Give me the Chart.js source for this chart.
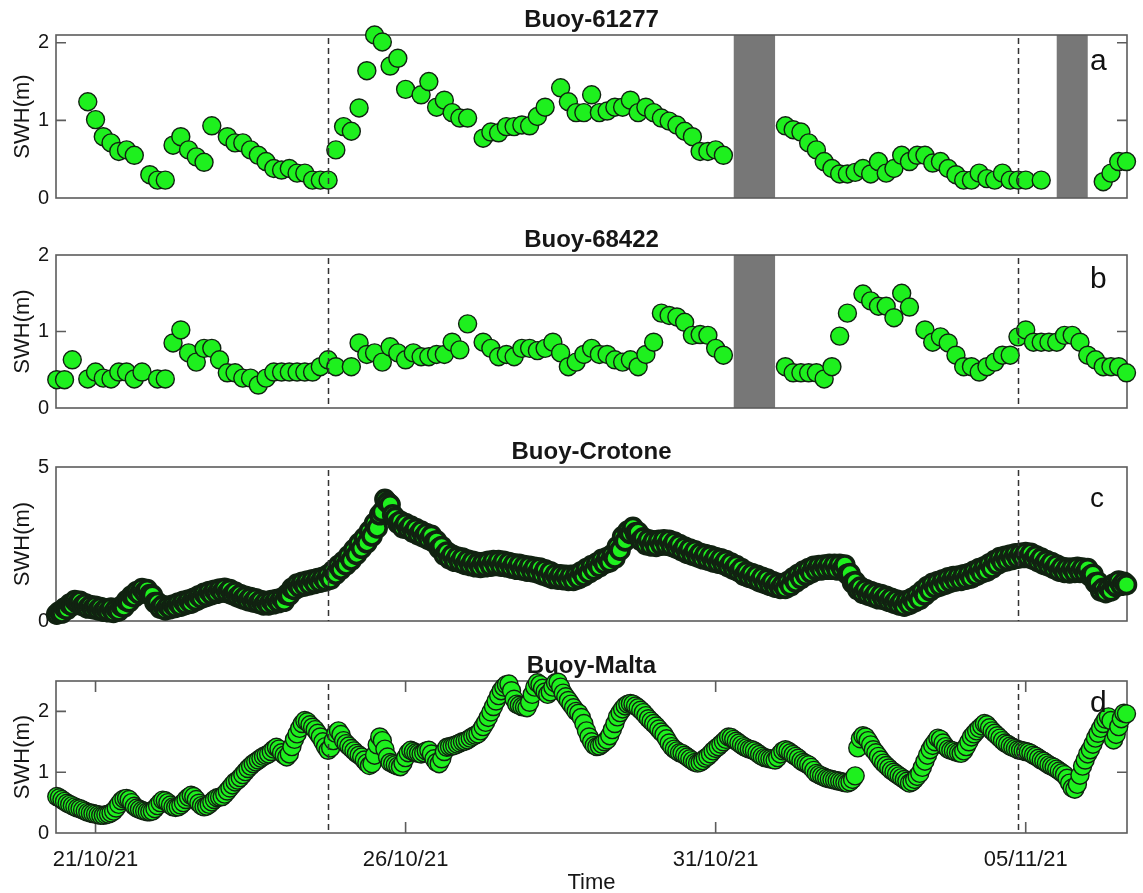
<!DOCTYPE html>
<html>
<head>
<meta charset="utf-8">
<title>Significant wave height at four buoys</title>
<script src="https://cdn.jsdelivr.net/npm/chart.js@4.4.1/dist/chart.umd.min.js"></script>
<style>
  html, body { margin: 0; padding: 0; background: #ffffff; }
  #wrap { position: relative; width: 1143px; height: 893px; overflow: hidden; background: #ffffff; }
  #wrap canvas { position: absolute; left: 0; }
</style>
</head>
<body>
<div id="wrap">
  <canvas id="panelA" width="1143" height="222" style="top:0px"></canvas>
  <canvas id="panelB" width="1143" height="212" style="top:220px"></canvas>
  <canvas id="panelC" width="1143" height="213" style="top:432px"></canvas>
  <canvas id="panelD" width="1143" height="250" style="top:646px"></canvas>
</div>
<script>
// Time axis: hours since 21/10/21 00:00
const timeMin = -15.3;
const timeMax = 399.2;
const dayTickHours = [0, 120, 240, 360];
const dayTickLabels = ['21/10/21', '26/10/21', '31/10/21', '05/11/21'];
const eventHours = [90, 357];

// Buoy 61277 (3-hourly)
const b61277Hours = [-3, 0, 3, 6, 9, 12, 15, 21, 24, 27, 30, 33, 36, 39, 42, 45, 51, 54, 57, 60, 63, 66, 69, 72, 75, 78, 81, 84, 87, 90,
  93, 96, 99, 102, 105, 108, 111, 114, 117, 120, 126, 129, 132, 135, 138, 141, 144, 150, 153, 156, 159, 162, 165, 168, 171, 174,
  180, 183, 186, 189, 192, 195, 198, 201, 204, 207, 210, 213, 216, 219, 222, 225, 228, 231, 234, 237, 240, 243,
  267, 270, 273, 276, 279, 282, 285, 288, 291, 294, 297, 300, 303, 306, 309, 312, 315, 318, 321, 324, 327, 330, 333, 336, 339, 342,
  345, 348, 351, 354, 357, 360, 366, 390, 393, 396, 399];
const b61277Swh = [1.24, 1.01, 0.79, 0.71, 0.60, 0.62, 0.55, 0.30, 0.23, 0.23, 0.68, 0.79, 0.62, 0.53, 0.46, 0.93, 0.79, 0.71, 0.71, 0.62, 0.55, 0.47, 0.38, 0.36, 0.38, 0.32, 0.32, 0.23, 0.23, 0.23,
  0.62, 0.92, 0.86, 1.16, 1.64, 2.10, 2.01, 1.70, 1.80, 1.40, 1.33, 1.50, 1.17, 1.26, 1.10, 1.03, 1.03, 0.77, 0.85, 0.84, 0.92, 0.92, 0.94, 0.93, 1.05, 1.17,
  1.42, 1.24, 1.10, 1.10, 1.33, 1.10, 1.12, 1.17, 1.17, 1.26, 1.10, 1.17, 1.10, 1.03, 0.99, 0.94, 0.86, 0.79, 0.60, 0.60, 0.62, 0.55,
  0.93, 0.88, 0.85, 0.71, 0.62, 0.47, 0.38, 0.31, 0.31, 0.33, 0.38, 0.31, 0.47, 0.32, 0.38, 0.55, 0.47, 0.55, 0.55, 0.45, 0.47, 0.38, 0.30, 0.23, 0.23, 0.32,
  0.25, 0.23, 0.32, 0.23, 0.23, 0.23, 0.23, 0.21, 0.32, 0.47, 0.47];
const b61277Gaps = [[247, 263], [372, 384]];

// Buoy 68422 (3-hourly)
const b68422Hours = [-15, -12, -9, -3, 0, 3, 6, 9, 12, 15, 18, 24, 27, 30, 33, 36, 39, 42, 45, 48, 51, 54, 57, 60, 63, 66, 69, 72, 75, 78, 81, 84, 87, 90, 93,
  99, 102, 105, 108, 111, 114, 117, 120, 123, 126, 129, 132, 135, 138, 141, 144, 150, 153, 156, 159, 162, 165, 168, 171, 174, 177, 180, 183, 186, 189,
  192, 195, 198, 201, 204, 207, 210, 213, 216, 219, 222, 225, 228, 231, 234, 237, 240, 243,
  267, 270, 273, 276, 279, 282, 285, 288, 291, 297, 300, 303, 306, 309, 312, 315, 321, 324, 327, 330, 333, 336, 339, 342, 345, 348, 351, 354,
  357, 360, 363, 366, 369, 372, 375, 378, 381, 384, 387, 390, 393, 396, 399];
const b68422Swh = [0.37, 0.37, 0.63, 0.38, 0.47, 0.39, 0.38, 0.47, 0.47, 0.38, 0.47, 0.38, 0.38, 0.85, 1.02, 0.72, 0.60, 0.78, 0.78, 0.63, 0.46, 0.46, 0.39, 0.39, 0.30, 0.39, 0.47, 0.47, 0.47, 0.47, 0.47, 0.47, 0.54, 0.63, 0.54,
  0.54, 0.85, 0.70, 0.72, 0.60, 0.80, 0.72, 0.63, 0.72, 0.67, 0.67, 0.70, 0.70, 0.86, 0.76, 1.10, 0.86, 0.78, 0.67, 0.70, 0.67, 0.78, 0.78, 0.75, 0.78, 0.86, 0.72, 0.54, 0.60, 0.70,
  0.78, 0.70, 0.70, 0.63, 0.60, 0.63, 0.54, 0.70, 0.86, 1.24, 1.21, 1.19, 1.12, 0.95, 0.96, 0.95, 0.78, 0.69,
  0.54, 0.46, 0.46, 0.46, 0.46, 0.38, 0.54, 0.94, 1.24, 1.49, 1.40, 1.33, 1.33, 1.18, 1.50, 1.32, 1.02, 0.86, 0.93, 0.85, 0.69, 0.54, 0.54, 0.47, 0.54, 0.60, 0.69, 0.69,
  0.93, 1.02, 0.86, 0.86, 0.86, 0.86, 0.95, 0.95, 0.86, 0.69, 0.63, 0.54, 0.54, 0.54, 0.46];
const b68422Gaps = [[247, 263]];

// Crotone buoy (hourly, first record at hour -15)
const crotoneStart = -15;
const crotoneSwh = [
  0.22, 0.30, 0.26, 0.42, 0.38, 0.55, 0.50, 0.66, 0.58, 0.64, 0.50, 0.56, 0.42, 0.50, 0.40,
  0.48, 0.36, 0.44, 0.32, 0.40, 0.30, 0.42, 0.28, 0.40, 0.33, 0.48, 0.45, 0.66, 0.62, 0.82, 0.78, 0.96, 0.88, 1.05, 0.94, 1.02, 0.86, 0.84, 0.60,
  0.60, 0.42, 0.50, 0.36, 0.48, 0.40, 0.52, 0.44, 0.58, 0.48, 0.64, 0.54, 0.68, 0.58, 0.74, 0.66, 0.82, 0.74, 0.90, 0.80, 0.96, 0.86, 1.00, 0.90,
  1.04, 0.94, 1.06, 0.92, 1.02, 0.86, 0.94, 0.78, 0.86, 0.72, 0.80, 0.66, 0.76, 0.62, 0.72, 0.58, 0.66, 0.52, 0.63, 0.52, 0.66, 0.56, 0.70, 0.60,
  0.74, 0.64, 0.86, 0.84, 1.06, 1.02, 1.20, 1.10, 1.26, 1.14, 1.30, 1.18, 1.34, 1.22, 1.38, 1.26, 1.42, 1.30, 1.50, 1.36, 1.64, 1.52, 1.80, 1.68,
  1.94, 1.82, 2.12, 1.98, 2.32, 2.16, 2.52, 2.36, 2.70, 2.54, 2.92, 2.76, 3.18, 3.02, 3.45, 3.55, 3.95, 3.85, 3.78, 3.45, 3.36, 3.18, 3.24, 3.02,
  3.16, 2.98, 3.08, 2.88, 3.00, 2.80, 2.92, 2.72, 2.84, 2.64, 2.78, 2.56, 2.60, 2.36, 2.42, 2.14, 2.24, 2.02, 2.14, 1.94, 2.08, 1.90, 2.04, 1.84,
  1.98, 1.80, 1.94, 1.76, 1.90, 1.74, 1.90, 1.76, 1.94, 1.78, 1.96, 1.80, 1.96, 1.78, 1.94, 1.76, 1.90, 1.72, 1.86, 1.68, 1.84, 1.66, 1.80, 1.62,
  1.78, 1.60, 1.74, 1.56, 1.72, 1.50, 1.66, 1.44, 1.60, 1.38, 1.52, 1.36, 1.50, 1.34, 1.48, 1.32, 1.48, 1.32, 1.50, 1.38, 1.60, 1.46, 1.70, 1.56,
  1.80, 1.66, 1.88, 1.76, 2.00, 1.86, 2.06, 1.92, 2.16, 2.04, 2.42, 2.30, 2.74, 2.60, 2.92, 2.84, 3.04, 2.86, 2.88, 2.62, 2.70, 2.48, 2.64, 2.44,
  2.60, 2.42, 2.62, 2.46, 2.64, 2.46, 2.62, 2.42, 2.56, 2.36, 2.48, 2.28, 2.40, 2.20, 2.34, 2.14, 2.28, 2.08, 2.20, 2.02, 2.16, 1.98, 2.12, 1.92,
  2.06, 1.88, 2.02, 1.84, 1.96, 1.76, 1.88, 1.68, 1.80, 1.60, 1.70, 1.48, 1.60, 1.42, 1.54, 1.36, 1.48, 1.28, 1.42, 1.22, 1.36, 1.16, 1.28, 1.10,
  1.22, 1.06, 1.18, 1.06, 1.28, 1.14, 1.40, 1.26, 1.52, 1.38, 1.62, 1.48, 1.70, 1.56, 1.78, 1.64, 1.80, 1.66, 1.82, 1.68, 1.84, 1.68, 1.84, 1.66,
  1.84, 1.68, 1.82, 1.52, 1.54, 1.24, 1.28, 1.02, 1.10, 0.90, 1.02, 0.84, 0.96, 0.78, 0.90, 0.72, 0.86, 0.70, 0.80, 0.64, 0.74, 0.58, 0.68, 0.52,
  0.64, 0.48, 0.66, 0.54, 0.74, 0.62, 0.84, 0.70, 0.98, 0.84, 1.12, 0.98, 1.22, 1.08, 1.28, 1.14, 1.34, 1.20, 1.40, 1.26, 1.44, 1.30, 1.46, 1.32,
  1.50, 1.36, 1.54, 1.40, 1.62, 1.48, 1.70, 1.56, 1.76, 1.62, 1.86, 1.72, 1.96, 1.84, 2.06, 1.92, 2.10, 1.96, 2.14, 2.00, 2.18, 2.04, 2.20, 2.06,
  2.22, 2.06, 2.20, 2.00, 2.12, 1.92, 2.04, 1.84, 1.96, 1.78, 1.90, 1.70, 1.82, 1.62, 1.74, 1.58, 1.72, 1.56, 1.72, 1.58, 1.74, 1.58, 1.72, 1.56,
  1.70, 1.46, 1.52, 1.24, 1.26, 0.98, 1.06, 0.92, 1.08, 0.98, 1.20, 1.12, 1.30, 1.16, 1.26, 1.18
];

// Malta buoy (hourly, first record at hour -15)
const maltaStart = -15;
const maltaSwh = [
  0.60, 0.58, 0.55, 0.52, 0.49, 0.47, 0.45, 0.43, 0.41, 0.40, 0.38, 0.36, 0.34, 0.33, 0.32,
  0.31, 0.30, 0.29, 0.29, 0.30, 0.31, 0.33, 0.36, 0.41, 0.47, 0.53, 0.56, 0.57, 0.55, 0.50, 0.44, 0.41, 0.39, 0.37, 0.36, 0.35, 0.35, 0.36, 0.40,
  0.45, 0.50, 0.54, 0.53, 0.50, 0.46, 0.43, 0.42, 0.43, 0.46, 0.50, 0.55, 0.59, 0.62, 0.60, 0.55, 0.49, 0.45, 0.43, 0.44, 0.47, 0.51, 0.55, 0.58,
  0.59, 0.60, 0.64, 0.69, 0.74, 0.79, 0.84, 0.87, 0.91, 0.96, 1.01, 1.06, 1.10, 1.14, 1.17, 1.20, 1.23, 1.26, 1.28, 1.30, 1.34, 1.38, 1.41, 1.38,
  1.32, 1.28, 1.25, 1.30, 1.42, 1.54, 1.63, 1.72, 1.80, 1.85, 1.83, 1.78, 1.74, 1.70, 1.64, 1.58, 1.50, 1.42, 1.36, 1.40, 1.52, 1.64, 1.68, 1.62,
  1.52, 1.47, 1.43, 1.39, 1.35, 1.31, 1.28, 1.25, 1.20, 1.15, 1.11, 1.14, 1.28, 1.45, 1.58, 1.52, 1.38, 1.25, 1.16, 1.14, 1.12, 1.10, 1.09, 1.15,
  1.24, 1.32, 1.36, 1.34, 1.32, 1.31, 1.30, 1.32, 1.35, 1.36, 1.30, 1.22, 1.16, 1.14, 1.22, 1.34, 1.41, 1.42, 1.43, 1.44, 1.46, 1.48, 1.50, 1.51,
  1.53, 1.56, 1.59, 1.61, 1.63, 1.68, 1.75, 1.82, 1.90, 1.99, 2.08, 2.17, 2.26, 2.34, 2.40, 2.44, 2.45, 2.34, 2.20, 2.12, 2.10, 2.08, 2.07, 2.06,
  2.15, 2.28, 2.40, 2.47, 2.44, 2.38, 2.32, 2.28, 2.32, 2.40, 2.47, 2.48, 2.40, 2.30, 2.24, 2.18, 2.12, 2.06, 2.00, 1.97, 1.90, 1.80, 1.68, 1.58,
  1.50, 1.44, 1.42, 1.43, 1.46, 1.50, 1.53, 1.60, 1.70, 1.80, 1.91, 1.98, 2.04, 2.09, 2.12, 2.13, 2.12, 2.09, 2.06, 2.02, 1.98, 1.93, 1.88, 1.84,
  1.80, 1.76, 1.71, 1.66, 1.62, 1.55, 1.48, 1.42, 1.38, 1.35, 1.32, 1.31, 1.28, 1.25, 1.22, 1.19, 1.16, 1.15, 1.16, 1.19, 1.23, 1.26, 1.30, 1.35,
  1.39, 1.42, 1.46, 1.50, 1.54, 1.58, 1.57, 1.54, 1.51, 1.48, 1.45, 1.42, 1.40, 1.38, 1.37, 1.35, 1.32, 1.29, 1.26, 1.24, 1.23, 1.22, 1.21, 1.20,
  1.24, 1.30, 1.35, 1.37, 1.35, 1.32, 1.29, 1.26, 1.23, 1.19, 1.16, 1.14, 1.12, 1.08, 1.03, 0.98, 0.96, 0.94, 0.92, 0.90, 0.89, 0.88, 0.87, 0.86,
  0.85, 0.84, 0.83, 0.82, 0.84, 0.88, 0.94, 1.40, 1.55, 1.60, 1.58, 1.52, 1.45, 1.37, 1.32, 1.26, 1.20, 1.15, 1.11, 1.07, 1.03, 1.00, 0.97, 0.94,
  0.91, 0.88, 0.85, 0.82, 0.84, 0.88, 0.93, 0.98, 1.08, 1.18, 1.28, 1.37, 1.44, 1.50, 1.56, 1.54, 1.48, 1.42, 1.38, 1.36, 1.35, 1.33, 1.32, 1.31,
  1.35, 1.42, 1.50, 1.58, 1.63, 1.68, 1.72, 1.76, 1.80, 1.78, 1.73, 1.68, 1.64, 1.60, 1.56, 1.52, 1.48, 1.46, 1.43, 1.41, 1.39, 1.37, 1.36, 1.35,
  1.34, 1.33, 1.31, 1.28, 1.26, 1.23, 1.20, 1.18, 1.15, 1.12, 1.10, 1.08, 1.05, 1.02, 0.99, 0.96, 0.90, 0.82, 0.74, 0.72, 0.80, 0.95, 1.10, 1.20,
  1.30, 1.37, 1.46, 1.56, 1.64, 1.72, 1.80, 1.87, 1.91, 1.85, 1.53, 1.62, 1.75, 1.88, 1.97, 1.96
];

const FONT = '"Liberation Sans", Arial, Helvetica, sans-serif';
const TEXT = '#161616';
const MARK_FILL = '#1ef01e';
const MARK_EDGE = '#112211';

// Frame, inward tick marks, shaded data gaps, event lines and the panel letter
const panelDecor = {
  id: 'panelDecor',
  beforeDatasetsDraw(chart, args, opts) {
    const { ctx, chartArea: a, scales: { x, y } } = chart;
    ctx.save();
    ctx.fillStyle = '#777777';
    (opts.gaps || []).forEach(([s, e]) => {
      const x0 = x.getPixelForValue(s), x1 = x.getPixelForValue(e);
      ctx.fillRect(x0, a.top, x1 - x0, a.bottom - a.top);
    });
    ctx.strokeStyle = '#5c5c5c';
    ctx.lineWidth = 1.6;
    ctx.strokeRect(a.left, a.top, a.right - a.left, a.bottom - a.top);
    ctx.beginPath();
    y.ticks.forEach(t => {
      const py = y.getPixelForValue(t.value);
      if (py <= a.top + 1 || py >= a.bottom - 1) return;
      ctx.moveTo(a.left, py); ctx.lineTo(a.left + 10, py);
      ctx.moveTo(a.right, py); ctx.lineTo(a.right - 10, py);
    });
    if (opts.xTicks) {
      dayTickHours.forEach(h => {
        const px = x.getPixelForValue(h);
        ctx.moveTo(px, a.bottom); ctx.lineTo(px, a.bottom - 11);
        ctx.moveTo(px, a.top); ctx.lineTo(px, a.top + 11);
      });
    }
    ctx.stroke();
    ctx.restore();
  },
  afterDatasetsDraw(chart, args, opts) {
    const { ctx, chartArea: a, scales: { x } } = chart;
    ctx.save();
    ctx.strokeStyle = '#333333';
    ctx.lineWidth = 1.5;
    ctx.setLineDash([6, 4]);
    eventHours.forEach(h => {
      const px = Math.round(x.getPixelForValue(h)) + 0.5;
      ctx.beginPath();
      ctx.moveTo(px, a.top + 3);
      ctx.lineTo(px, a.bottom);
      ctx.stroke();
    });
    ctx.setLineDash([]);
    ctx.fillStyle = '#111111';
    ctx.font = (opts.letterSize || 30) + 'px ' + FONT;
    ctx.textAlign = 'left';
    ctx.textBaseline = 'alphabetic';
    ctx.fillText(opts.letter, a.right - 37, a.top + opts.letterBase);
    ctx.restore();
  }
};

function toPoints(hours, values) {
  return values.map((v, i) => ({ x: hours[i], y: v }));
}
function hourlyPoints(start, values) {
  return values.map((v, i) => ({ x: start + i, y: v }));
}

function makePanel(id, cfg) {
  const showX = !!cfg.showX;
  new Chart(document.getElementById(id), {
    type: 'scatter',
    data: {
      datasets: [{
        data: cfg.points,
        showLine: false,
        pointRadius: 9,
        pointHoverRadius: 9,
        pointBackgroundColor: MARK_FILL,
        pointBorderColor: MARK_EDGE,
        pointBorderWidth: cfg.edgeWidth || 1.4,
        clip: false
      }]
    },
    options: {
      responsive: false,
      animation: false,
      devicePixelRatio: 1,
      events: [],
      layout: { padding: { left: 0, right: 16, top: 0, bottom: showX ? 0 : 24 } },
      scales: {
        x: {
          type: 'linear',
          min: timeMin,
          max: timeMax,
          display: showX,
          afterBuildTicks: ax => { ax.ticks = dayTickHours.map(v => ({ value: v })); },
          afterFit: ax => { if (showX) ax.height = 63; },
          grid: { display: false, drawTicks: false },
          border: { display: false },
          ticks: {
            autoSkip: false,
            maxRotation: 0,
            padding: 14,
            color: TEXT,
            font: { family: FONT, size: 22 },
            callback: v => dayTickLabels[dayTickHours.indexOf(v)] || ''
          },
          title: {
            display: true,
            text: 'Time',
            color: TEXT,
            font: { family: FONT, size: 22 },
            padding: { top: 0, bottom: 0 }
          }
        },
        y: {
          min: 0,
          max: cfg.yMax,
          afterBuildTicks: ax => { ax.ticks = cfg.yTicks.map(v => ({ value: v })); },
          afterFit: ax => { ax.width = 56; },
          grid: { display: false, drawTicks: false },
          border: { display: false },
          ticks: { padding: 7, color: TEXT, font: { family: FONT, size: 20 } },
          title: {
            display: true,
            text: 'SWH(m)',
            color: TEXT,
            font: { family: FONT, size: 22 },
            padding: { top: 10, bottom: 0 }
          }
        }
      },
      plugins: {
        legend: { display: false },
        tooltip: { enabled: false },
        title: {
          display: true,
          text: cfg.title,
          fullSize: false,
          color: TEXT,
          font: { family: FONT, size: 24, weight: 'bold' },
          padding: { top: 6, bottom: 0.2 }
        },
        panelDecor: {
          gaps: cfg.gaps,
          letter: cfg.letter,
          letterBase: cfg.letterBase,
          letterSize: cfg.letterSize,
          xTicks: showX
        }
      }
    },
    plugins: [panelDecor]
  });
}

makePanel('panelA', {
  title: 'Buoy-61277', points: toPoints(b61277Hours, b61277Swh),
  yMax: 2.1, yTicks: [0, 1, 2], gaps: b61277Gaps, letter: 'a', letterBase: 35
});
makePanel('panelB', {
  title: 'Buoy-68422', points: toPoints(b68422Hours, b68422Swh),
  yMax: 2, yTicks: [0, 1, 2], gaps: b68422Gaps, letter: 'b', letterBase: 33
});
makePanel('panelC', {
  title: 'Buoy-Crotone', points: hourlyPoints(crotoneStart, crotoneSwh),
  yMax: 5, yTicks: [0, 5], gaps: [], letter: 'c', letterBase: 40, letterSize: 28, edgeWidth: 3.6
});
makePanel('panelD', {
  title: 'Buoy-Malta', points: hourlyPoints(maltaStart, maltaSwh),
  yMax: 2.5, yTicks: [0, 1, 2], gaps: [], letter: 'd', letterBase: 31, showX: true
});
</script>
</body>
</html>
